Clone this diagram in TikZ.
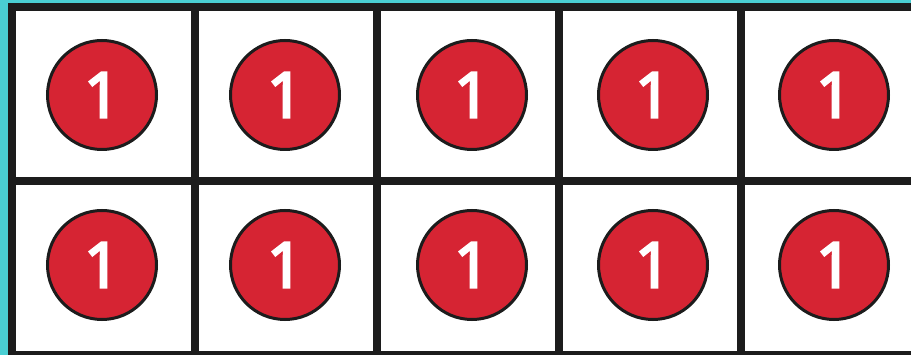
\documentclass[tikz,border=0pt]{standalone}
\usepackage{fontspec}
\setmainfont{Open Sans}
\newfontfamily\chipfont[FakeBold=4]{Open Sans}
\definecolor{teal1}{HTML}{4ACFD3}
\definecolor{ink}{HTML}{1C1C1C}
\definecolor{chipred}{HTML}{D62433}
\begin{document}
\begin{tikzpicture}[x=1pt,y=-1pt,
  chip/.style={circle,draw=ink,line width=3pt,fill=chipred,minimum size=109pt,inner sep=0pt,
    text=white,font=\chipfont\fontsize{63}{63}\selectfont},
  gridline/.style={draw=ink,line width=8pt}]
\useasboundingbox (0,0) rectangle (911,355);
\clip (0,0) rectangle (911,355);
\fill[teal1] (0,0) rectangle (911,355);
\fill[white] (12,7.5) rectangle (920,360);
% grid
\foreach \x in {12,194.5,376.5,558.5,740.5}
  \draw[gridline] (\x,3.5) -- (\x,362);
\foreach \y in {7.5,181,355}
  \draw[gridline] (8,\y) -- (920,\y);
% chips
\foreach \cx [count=\i] in {102,285,472,653,834} {
  \node[chip] (c1\i) at (\cx,95) {1};
  \node[chip] (c2\i) at (\cx,265) {1};
}
\end{tikzpicture}
\end{document}
